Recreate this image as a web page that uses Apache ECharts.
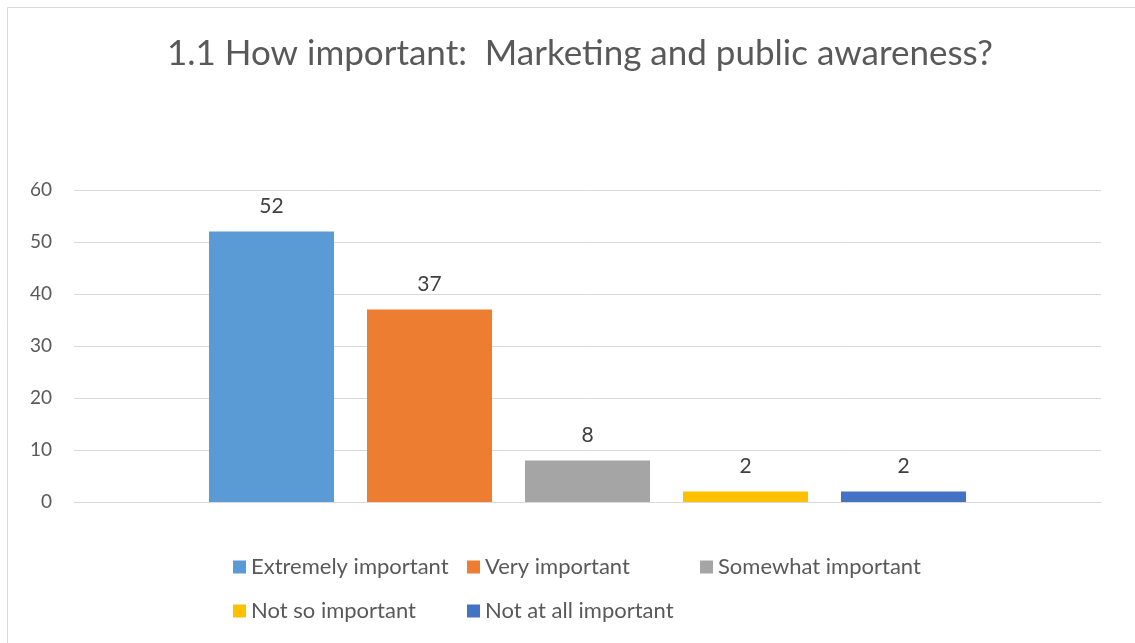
<!DOCTYPE html>
<html><head><meta charset="utf-8">
<script src="https://cdn.jsdelivr.net/npm/echarts@6/dist/echarts.min.js"></script>
<style>html,body{margin:0;padding:0;background:#fff}#c{width:1135px;height:643px}</style>
</head><body><div id="c"></div>
<script>
const titleText = '1.1 How important:  Marketing and public awareness?';
const categories = [''];
const seriesNames = ['Extremely important','Very important','Somewhat important','Not so important','Not at all important'];
const seriesValues = [[52],[37],[8],[2],[2]];
const seriesColors = ['#5B9BD5','#ED7D31','#A5A5A5','#FFC000','#4472C4'];
const yTicks = {min:0, max:60, interval:10};
const font = 'Lato';
const chart = echarts.init(document.getElementById('c'));
const series = seriesNames.map((n,i)=>({
  name:n, type:'bar', data:seriesValues[i], barWidth:125, barGap:'26.4%',
  itemStyle:{color:seriesColors[i]},
  label:{show:true, position:'top', distance:15, color:'#404040', fontSize:21, fontFamily:font}
}));
const legendText = {color:'#595959', fontSize:22, fontFamily:font};
const legendPos = [[228,551],[462,551],[695,551],[228,595],[462,595]];
const legends = seriesNames.map((n,i)=>({
  data:[n], left:legendPos[i][0], top:legendPos[i][1], itemWidth:13, itemHeight:13, itemGap:0,
  icon:'rect', textStyle:legendText
}));
chart.setOption({
  animation:false,
  backgroundColor:'#fff',
  graphic:[{type:'rect', shape:{x:7.5,y:7.5,width:1140,height:650}, style:{fill:'none', stroke:'#d9d9d9', lineWidth:1}}],
  title:{text:titleText, left:162, top:31, textStyle:{color:'#595959', fontSize:35, fontWeight:'normal', fontFamily:font}},
  legend:legends,
  grid:{left:74, right:34, top:190, bottom:141},
  xAxis:{type:'category', data:categories, axisLine:{lineStyle:{color:'#d9d9d9'}}, axisTick:{show:false}, axisLabel:{show:false}},
  yAxis:{type:'value', min:yTicks.min, max:yTicks.max, interval:yTicks.interval,
    axisLine:{show:false}, axisTick:{show:false},
    axisLabel:{color:'#595959', fontSize:19, fontFamily:font, margin:22},
    splitLine:{lineStyle:{color:'#d9d9d9', width:1}}},
  series:series
});
</script></body></html>
